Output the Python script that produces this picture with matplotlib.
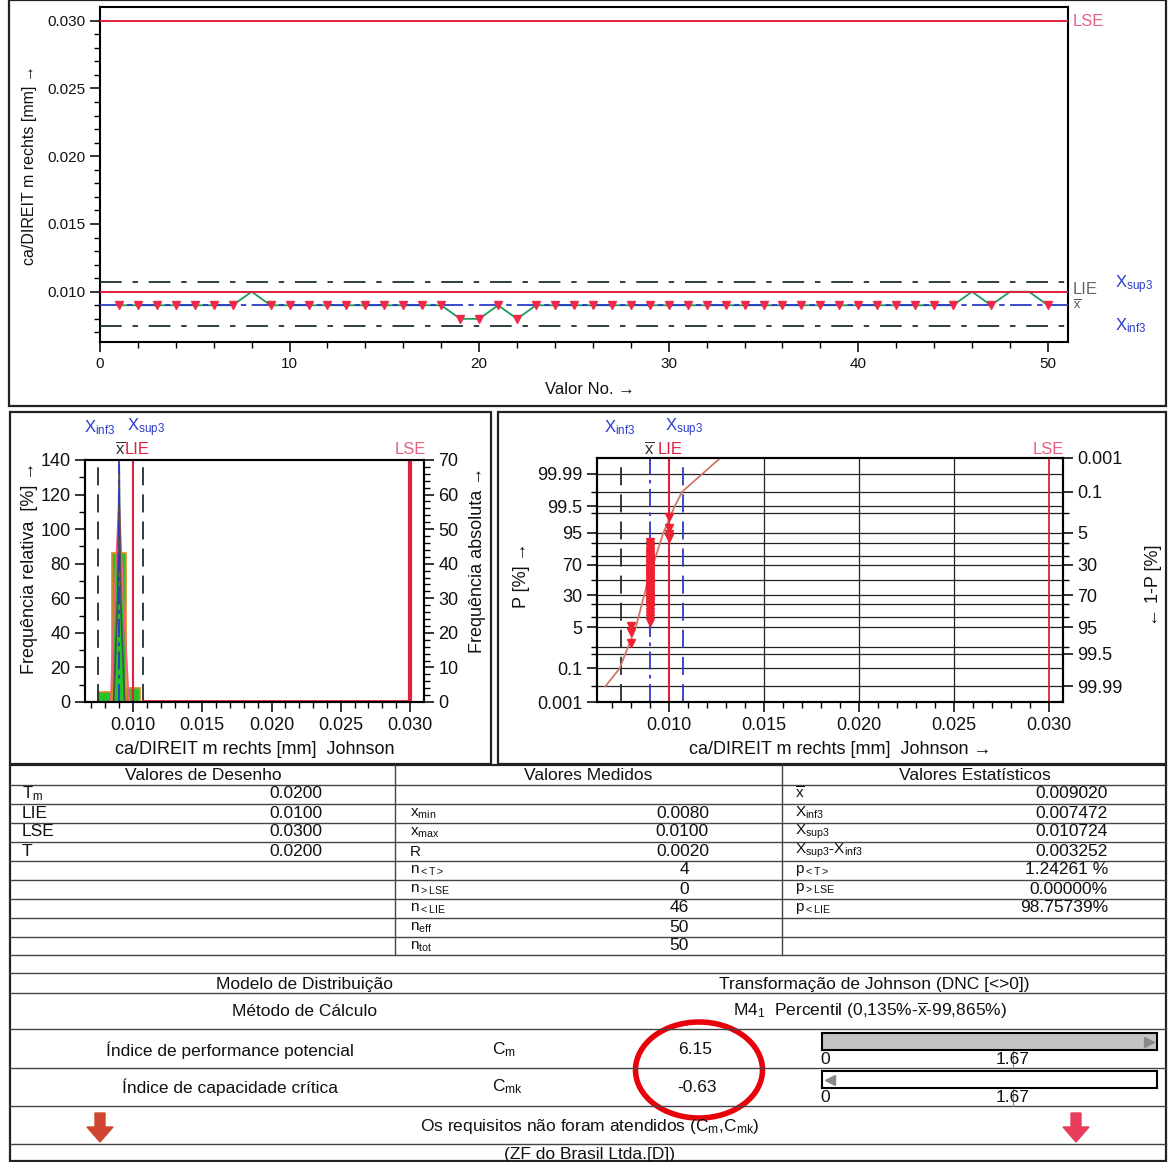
import statistics
import numpy as np
import matplotlib
matplotlib.use('Agg')
import matplotlib.pyplot as plt
from matplotlib.patches import Rectangle, Ellipse, Polygon

plt.rcParams['font.family'] = ['Liberation Sans', 'DejaVu Sans']
plt.rcParams['mathtext.fontset'] = 'custom'
plt.rcParams['mathtext.rm'] = 'Liberation Sans'
plt.rcParams['mathtext.it'] = 'Liberation Sans:italic'
plt.rcParams['mathtext.bf'] = 'Liberation Sans:bold'

W, H = 1168, 1162

# --- data ---
measurements = [0.009, 0.009, 0.009, 0.009, 0.009, 0.009, 0.009, 0.010, 0.009, 0.009,
                0.009, 0.009, 0.009, 0.009, 0.009, 0.009, 0.009, 0.009, 0.008, 0.008,
                0.009, 0.008, 0.009, 0.009, 0.009, 0.009, 0.009, 0.009, 0.009, 0.009,
                0.009, 0.009, 0.009, 0.009, 0.009, 0.009, 0.009, 0.009, 0.009, 0.009,
                0.009, 0.009, 0.009, 0.009, 0.009, 0.010, 0.009, 0.010, 0.010, 0.009]
LIE = 0.0100
LSE = 0.0300
x_mean = 0.009020
x_inf3 = 0.007472
x_sup3 = 0.010724
Cm = 6.15
Cmk = -0.63
C_ref = 1.67

# density curves drawn over the histogram
spike_x = [0.0086, 0.0089, 0.0090, 0.0091, 0.0094]
spike_y = [0, 60, 137, 60, 0]
pink_x = [0.0084, 0.0087, 0.0090, 0.0093, 0.0097]
pink_y = [0, 70, 115, 60, 0]

# fitted Johnson curve on the probability net
fit_x = [0.00665, 0.0074, 0.00826, 0.0089, 0.0097, 0.0103, 0.0107, 0.0127]
fit_p = [0.01, 0.1, 5, 50, 95, 99.5, 99.9, 99.999]

prob_grid = [0.001, 0.01, 0.1, 0.5, 1, 5, 10, 20, 30, 50, 70, 80, 90, 95, 99, 99.5, 99.9, 99.99]
prob_labels = [0.001, 0.1, 5, 30, 70, 95, 99.5, 99.99]
prob_labels_right = [0.001, 0.1, 5, 30, 70, 95, 99.5, 99.99]

design_labels = ['T$_{\\rm m}$', 'LIE', 'LSE', 'T']
design_values = ['0.0200', '0.0100', '0.0300', '0.0200']
measured_labels = ['x$_{\\rm min}$', 'x$_{\\rm max}$', 'R', 'n$_{\\rm <T>}$',
                   'n$_{\\rm >LSE}$', 'n$_{\\rm <LIE}$', 'n$_{\\rm eff}$', 'n$_{\\rm tot}$']
measured_values = ['0.0080', '0.0100', '0.0020', '4', '0', '46', '50', '50']
stat_labels = ['$\\overline{\\rm x}$', 'X$_{\\rm inf3}$', 'X$_{\\rm sup3}$',
               'X$_{\\rm sup3}$-X$_{\\rm inf3}$', 'p$_{\\rm <T>}$', 'p$_{\\rm >LSE}$', 'p$_{\\rm <LIE}$']
stat_values = ['0.009020', '0.007472', '0.010724', '0.003252', '1.24261 %', '0.00000%', '98.75739%']

RED = '#e0203c'
BLUE = '#2a3cc8'
DARK = '#1e2e2e'
TS = 12.5   # table font size
LS = 11     # table row label size (with subscripts)
MS = 13     # middle panels font size

fig = plt.figure(figsize=(W / 100, H / 100), dpi=100)


def px_axes(l, t, r, b, **kw):
    return fig.add_axes([l / W, 1 - b / H, (r - l) / W, (b - t) / H], **kw)


# overlay in pixel coordinates for frames, table and free text
ov = fig.add_axes([0, 0, 1, 1], zorder=-1)
ov.set_xlim(0, W)
ov.set_ylim(H, 0)
ov.axis('off')


def txt(x, y, s, **kw):
    kw.setdefault('fontsize', 11)
    kw.setdefault('va', 'center')
    kw.setdefault('color', '#111111')
    ov.text(x, y, s, **kw)


def style_ticks(ax, size=11):
    ax.tick_params(which='major', direction='out', length=7, width=1.2, labelsize=size, colors='#111')
    ax.tick_params(which='minor', direction='out', length=4, width=1.0)
    for s in ax.spines.values():
        s.set_linewidth(1.5)


# panel frames
for (l, t, r, b) in [(9, 0, 1166, 406), (10, 412, 491, 764), (498, 412, 1166, 764)]:
    ov.add_patch(Rectangle((l, t), r - l, b - t, fill=False, ec='#222', lw=1.6))

# ---------------- top run chart ----------------
meas = np.array(measurements)
n_idx = np.arange(1, len(meas) + 1)
ax1 = px_axes(100, 7, 1068, 342)
ax1.set_xlim(0, 51.06)
ax1.set_ylim(0.00629, 0.03101)
ax1.plot(n_idx, meas, color='#1f9a5a', lw=1.3, zorder=2)
ax1.axhline(LSE, color=RED, lw=1.4, zorder=3)
ax1.axhline(LIE, color=RED, lw=1.4, zorder=3)
ax1.axhline(x_mean, color=BLUE, lw=1.3, dashes=(12, 3, 3, 3), zorder=3)
ax1.axhline(x_sup3, color=DARK, lw=1.3, dashes=(12, 6, 3, 6), zorder=3)
ax1.axhline(x_inf3, color=DARK, lw=1.3, dashes=(12, 6, 3, 6), zorder=3)
below = meas < LIE
ax1.plot(n_idx[below], meas[below], 'v', color='#f0284a', ms=6, zorder=4)
ax1.set_xticks(np.arange(0, 51, 10))
ax1.set_xticks(np.arange(0, 51, 2), minor=True)
ax1.set_yticks(np.arange(0.010, 0.0301, 0.005))
ax1.set_yticks(np.arange(0.007, 0.0301, 0.001), minor=True)
ax1.yaxis.set_major_formatter(plt.FormatStrFormatter('%.3f'))
style_ticks(ax1)

txt(1073, 21, 'LSE', color='#e86080', fontsize=12)
txt(1073, 290, 'LIE', color='#666', fontsize=12)
txt(1073, 306, '$\\overline{\\rm x}$', color='#555', fontsize=9)
txt(1115, 285, 'X$_{\\rm sup3}$', color=BLUE, fontsize=12)
txt(1115, 326, 'X$_{\\rm inf3}$', color=BLUE, fontsize=12)
txt(590, 389, 'Valor No. →', ha='center', fontsize=12)
txt(30, 165, 'ca/DIREIT m rechts [mm] →', ha='center', rotation=90, fontsize=11.5)

# ---------------- histogram ----------------
ax2 = px_axes(85, 460, 424, 702)
ax2.set_xlim(0.006534, 0.03101)
ax2.set_ylim(0, 140)
vals, counts = np.unique(meas, return_counts=True)
rel = counts / len(meas) * 100
ax2.bar(vals, rel, width=0.00105, color='#22c428', edgecolor='#e08a20', lw=1.2, zorder=2)
ax2.plot(pink_x, pink_y, color='#ff5a80', lw=1.3, zorder=3)
ax2.plot(spike_x, spike_y, color='#505050', lw=1.3, zorder=3)
ax2.axvline(x_inf3, color=DARK, lw=1.3, dashes=(10, 5), zorder=4)
ax2.axvline(x_sup3, color=DARK, lw=1.3, dashes=(10, 5), zorder=4)
ax2.axvline(x_mean, color=BLUE, lw=1.3, dashes=(10, 3, 2, 3), zorder=4)
ax2.axvline(LIE, color=RED, lw=1.5, zorder=4)
ax2.axvline(LSE, color=RED, lw=3, zorder=4)
ax2.plot([x_sup3, LSE], [0.6, 0.6], color=RED, lw=2, zorder=4)
ax2.set_xticks(np.arange(0.010, 0.0301, 0.005))
ax2.set_xticks(np.arange(0.007, 0.0301, 0.001), minor=True)
ax2.xaxis.set_major_formatter(plt.FormatStrFormatter('%.3f'))
ax2.set_yticks(np.arange(0, 141, 20))
ax2.set_yticks(np.arange(0, 141, 10), minor=True)
style_ticks(ax2, MS)
ax2r = ax2.twinx()
ax2r.set_ylim(0, 70)
ax2r.set_yticks(np.arange(0, 71, 10))
ax2r.set_yticks(np.arange(0, 71, 2), minor=True)
style_ticks(ax2r, MS)

txt(100, 428, 'X$_{\\rm inf3}$', color=BLUE, ha='center', fontsize=12)
txt(146, 428, 'X$_{\\rm sup3}$', color=BLUE, ha='center', fontsize=12)
txt(120, 449, '$\\overline{\\rm x}$', color='#333', ha='center', fontsize=12)
txt(137, 449, 'LIE', color=RED, ha='center', fontsize=12)
txt(410, 449, 'LSE', color='#e86080', ha='center', fontsize=12)
txt(30, 568, 'Frequência relativa  [%] →', ha='center', rotation=90, fontsize=MS)
txt(478, 560, 'Frequência absoluta →', ha='center', rotation=90, fontsize=MS)
txt(255, 750, 'ca/DIREIT m rechts [mm]  Johnson', ha='center', fontsize=MS)

# ---------------- probability net ----------------
z = statistics.NormalDist().inv_cdf
ax3 = px_axes(597, 458, 1063, 702)
ax3.set_xlim(0.006211, 0.03074)
ax3.set_ylim(z(1e-5), z(1 - 1e-5))
for p in prob_grid:
    ax3.axhline(z(p / 100), color='#222', lw=0.9, zorder=1)
for xv in [0.015, 0.020, 0.025]:
    ax3.axvline(xv, color='#222', lw=0.9, zorder=1)
ax3.axvline(x_inf3, color=DARK, lw=1.3, dashes=(10, 5), zorder=2)
ax3.axvline(x_sup3, color=BLUE, lw=1.3, dashes=(10, 5), zorder=2)
ax3.axvline(x_mean, color=BLUE, lw=1.3, dashes=(10, 3, 2, 3), zorder=2)
ax3.axvline(LIE, color=RED, lw=1.5, zorder=2)
ax3.axvline(LSE, color=RED, lw=1.3, zorder=2)
srt = np.sort(meas)
ranks = np.arange(1, len(srt) + 1)
pp = (ranks - 0.3) / (len(srt) + 0.4)
ax3.plot(srt, [z(v) for v in pp], 'v', color='#f02030', ms=6, zorder=4)
ax3.plot(fit_x, [z(p / 100) for p in fit_p], color='#d07868', lw=1.3, zorder=3)
ax3.set_yticks([z(p / 100) for p in prob_labels])
ax3.set_yticklabels([('%g' % p) for p in prob_labels])
ax3.set_yticks([z(p / 100) for p in prob_grid if p not in prob_labels], minor=True)
ax3.set_xticks(np.arange(0.010, 0.0301, 0.005))
ax3.set_xticks(np.arange(0.007, 0.0301, 0.001), minor=True)
ax3.xaxis.set_major_formatter(plt.FormatStrFormatter('%.3f'))
style_ticks(ax3, MS)
ax3r = ax3.twinx()
ax3r.set_ylim(ax3.get_ylim())
ax3r.set_yticks([z(1 - q / 100) for q in prob_labels_right])
ax3r.set_yticklabels([('%g' % q) for q in prob_labels_right])
ax3r.set_yticks([z(p / 100) for p in prob_grid if p not in prob_labels], minor=True)
style_ticks(ax3r, MS)

txt(620, 428, 'X$_{\\rm inf3}$', color=BLUE, ha='center', fontsize=12)
txt(684, 428, 'X$_{\\rm sup3}$', color=BLUE, ha='center', fontsize=12)
txt(649, 449, '$\\overline{\\rm x}$', color='#333', ha='center', fontsize=12)
txt(670, 449, 'LIE', color=RED, ha='center', fontsize=12)
txt(1048, 449, 'LSE', color='#e86080', ha='center', fontsize=12)
txt(522, 575, 'P [%] →', ha='center', rotation=90, fontsize=MS)
txt(1153, 585, '← 1-P [%]', ha='center', rotation=90, fontsize=MS)
txt(840, 750, 'ca/DIREIT m rechts [mm]  Johnson →', ha='center', fontsize=MS)

# ---------------- table ----------------
ov.add_patch(Rectangle((10, 765), 1156, 396, fill=False, ec='#222', lw=1.6))
hlines = [785, 804, 823, 842, 861, 880, 899, 918, 937, 955, 973, 993, 1029, 1068, 1106, 1144]
for y in hlines:
    ov.plot([10, 1166], [y, y], color='#444', lw=1.0)
for x in [395, 782]:
    ov.plot([x, x], [765, 955], color='#444', lw=1.0)

txt(203, 775, 'Valores de Desenho', ha='center', fontsize=TS)
txt(588, 775, 'Valores Medidos', ha='center', fontsize=TS)
txt(975, 775, 'Valores Estatísticos', ha='center', fontsize=TS)

row_c = [794, 813, 832, 851, 870, 889, 908, 927, 946]
for i, (lab, val) in enumerate(zip(design_labels, design_values)):
    txt(22, row_c[i], lab, fontsize=TS if i else LS + 1)
    txt(322, row_c[i], val, ha='right', fontsize=TS)
for i, (lab, val) in enumerate(zip(measured_labels, measured_values)):
    txt(410, row_c[i + 1] + 1, lab, fontsize=LS)
    txt(709 if '.' in val else 689, row_c[i + 1], val, ha='right', fontsize=TS)
for i, (lab, val) in enumerate(zip(stat_labels, stat_values)):
    txt(795, row_c[i], lab, fontsize=LS)
    txt(1108, row_c[i], val, ha='right', fontsize=TS)

txt(305, 984, 'Modelo de Distribuição', ha='center', fontsize=TS)
txt(874, 984, 'Transformação de Johnson (DNC [<>0])', ha='center', fontsize=TS)
txt(305, 1011, 'Método de Cálculo', ha='center', fontsize=TS)
txt(733, 1011, 'M4$_1$  Percentil (0,135%-$\\overline{\\rm x}$-99,865%)', fontsize=TS)
txt(230, 1050, 'Índice de performance potencial', ha='center', fontsize=TS)
txt(492, 1050, 'C$_{\\rm m}$', fontsize=TS)
txt(695, 1050, '%.2f' % Cm, ha='center', fontsize=TS)
txt(230, 1087, 'Índice de capacidade crítica', ha='center', fontsize=TS)
txt(492, 1087, 'C$_{\\rm mk}$', fontsize=TS)
txt(697, 1087, '%.2f' % Cmk, ha='center', fontsize=TS)
txt(590, 1126, 'Os requisitos não foram atendidos (C$_{\\rm m}$,C$_{\\rm mk}$)', ha='center', fontsize=TS)
txt(590, 1154, '(ZF do Brasil Ltda.[D])', ha='center', fontsize=TS)

# capability bars
bar_max = (1157 - 822) / ((1013 - 822) / C_ref)
for (top, val) in [(1033, Cm), (1071, Cmk)]:
    axb = px_axes(822, top, 1157, top + 17)
    axb.set_xlim(0, bar_max)
    axb.set_ylim(0, 1)
    axb.barh(0.5, min(max(val, 0), bar_max), height=1, color='#c4c4c4', zorder=1)
    axb.set_xticks([])
    axb.set_yticks([])
    for s in axb.spines.values():
        s.set_linewidth(1.5)
    if val > bar_max:
        axb.plot(bar_max * 0.975, 0.5, '>', color='#888', ms=7)
    elif val < 0:
        axb.plot(bar_max * 0.025, 0.5, '<', color='#888', ms=7)
    xr = 822 + (1157 - 822) * C_ref / bar_max
    ov.plot([xr, xr], [top, top + 35], color='#888', lw=0.8)
    txt(825, top + 26, '0', ha='center', fontsize=TS)
    txt(xr, top + 26, '%.2f' % C_ref, ha='center', fontsize=TS)

# highlight ellipse
ov.add_patch(Ellipse((699, 1070), 127, 96, fill=False, ec='#e8000a', lw=4))


def down_arrow(cx, color):
    pts = [(cx - 5, 1113), (cx + 5, 1113), (cx + 5, 1127), (cx + 13, 1127),
           (cx, 1142), (cx - 13, 1127), (cx - 5, 1127)]
    ov.add_patch(Polygon(pts, closed=True, fc=color, ec=color))


down_arrow(100, '#d04530')
down_arrow(1076, '#e83c5c')

fig.savefig('out.png', dpi=100)
